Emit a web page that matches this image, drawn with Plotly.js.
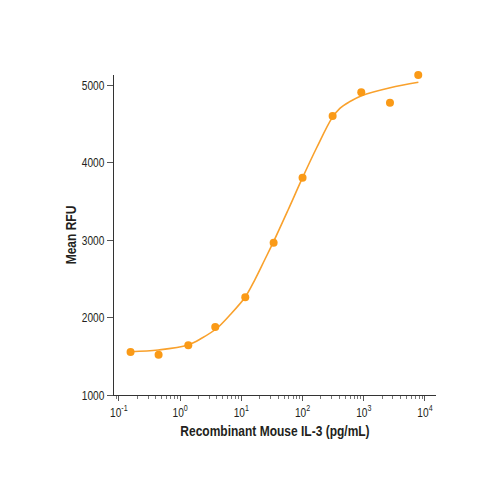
<!DOCTYPE html>
<html>
<head>
<meta charset="utf-8">
<script src="https://cdn.plot.ly/plotly-3.0.1.min.js"></script>
<style>
  html, body { margin: 0; padding: 0; background: #fff; }
  #chart { width: 500px; height: 500px; }
</style>
</head>
<body>
<div id="chart"></div>
<script>
// Measured points: IL-3 concentration (pg/mL) vs mean RFU
const doseValues = [0.155, 0.445, 1.36, 3.75, 11.6, 33.7, 100, 310, 910, 2680, 7760];
const rfuValues = [1555, 1520, 1641, 1877, 2261, 2965, 3804, 4600, 4906, 4772, 5129];

// Fitted curve
const fitDose = [0.156, 0.44, 1.34, 2.28, 3.94, 6.5, 11.5, 16.7, 24, 33, 58, 100, 170, 300, 407, 590, 920, 2700, 7800];
const fitRfu = [1559, 1581, 1645, 1735, 1858, 2032, 2261, 2490, 2742, 2965, 3387, 3804, 4190, 4570, 4699, 4785, 4862, 4965, 5035];

// Axis ticks
const xTickVals = [0.1, 1, 10, 100, 1000, 10000];
const xTickText = ['10<sup>-1</sup>', '10<sup>0</sup>', '10<sup>1</sup>', '10<sup>2</sup>', '10<sup>3</sup>', '10<sup>4</sup>'];
const yTickVals = [1000, 2000, 3000, 4000, 5000];

const orange = '#FA9A17';
const textColor = '#231F20';
const fontFamily = '"Liberation Sans", Arial, sans-serif';

const fitTrace = {
    x: fitDose,
    y: fitRfu,
    type: 'scatter',
    mode: 'lines',
    line: { color: '#F9A12C', width: 1.6, shape: 'spline', smoothing: 1 },
    hoverinfo: 'skip'
};

const pointTrace = {
    x: doseValues,
    y: rfuValues,
    type: 'scatter',
    mode: 'markers',
    marker: { color: orange, size: 8 },
    cliponaxis: false
};

const layout = {
    width: 500,
    height: 500,
    margin: { l: 114, r: 64, t: 75, b: 105 },
    paper_bgcolor: '#fff',
    plot_bgcolor: '#fff',
    showlegend: false,
    font: { family: fontFamily, color: textColor, size: 13 },
    xaxis: {
        type: 'log',
        range: [-1.08, 4.18],
        tickmode: 'array',
        tickvals: xTickVals,
        ticktext: xTickText,
        ticks: 'outside',
        ticklen: 5,
        tickcolor: '#555',
        showline: true,
        linecolor: '#333',
        linewidth: 1,
        showgrid: false,
        zeroline: false,
        minor: { ticks: 'outside', ticklen: 3, tickcolor: '#777', dtick: 'D1', showgrid: false },
        tickfont: { family: fontFamily, size: 13, color: textColor },
        title: {
            text: '<b>Recombinant Mouse IL-3 (pg/mL)</b>',
            font: { family: fontFamily, size: 15, color: textColor },
            standoff: 6
        }
    },
    yaxis: {
        range: [1000, 5129],
        tickmode: 'array',
        tickvals: yTickVals,
        ticks: 'outside',
        ticklen: 6,
        tickcolor: '#555',
        showline: true,
        linecolor: '#333',
        linewidth: 1,
        showgrid: false,
        zeroline: false,
        tickfont: { family: fontFamily, size: 13, color: textColor },
        title: {
            text: '<b>Mean RFU</b>',
            font: { family: fontFamily, size: 15, color: textColor },
            standoff: 2
        }
    }
};

Plotly.newPlot('chart', [fitTrace, pointTrace], layout, { displayModeBar: false, staticPlot: true })
    .then(function(gd) {
        // squeeze texts horizontally, the original uses a condensed face
        function squeeze(selector, factor, shift) {
            gd.querySelectorAll(selector).forEach(function(t) {
                const x = parseFloat(t.getAttribute('x')) || 0;
                const prev = t.getAttribute('transform') || '';
                t.setAttribute('transform', prev + ' translate(' + x + ',' + (shift || 0) + ') scale(' + factor + ',1) translate(' + (-x) + ',0)');
            });
        }
        squeeze('.xtick text, .ytick text', 0.78);
        squeeze('.g-xtitle text', 0.8);
        // y title is rotated, so a local y shift moves it right, closer to the ticks
        squeeze('.g-ytitle text', 0.8, 7);
    });
</script>
</body>
</html>
